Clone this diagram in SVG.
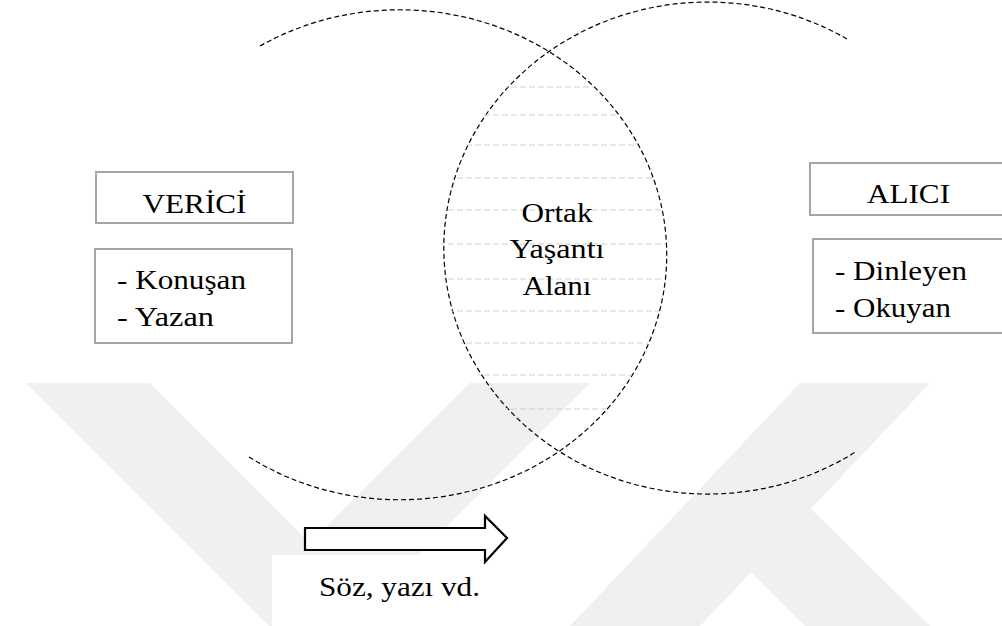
<svg xmlns="http://www.w3.org/2000/svg" width="1002" height="626" viewBox="0 0 1002 626">
<style>
.t{font-family:'Liberation Serif','DejaVu Serif',serif;font-size:28px;fill:#000}
.box{fill:#fff;stroke:#a6a6a6;stroke-width:2}
.circ{fill:none;stroke:#000;stroke-width:1.2;stroke-dasharray:5 3}
.hl{stroke:#cfcfcf;stroke-width:1;stroke-dasharray:6 3}
.wm{fill:#f0f0f0}
</style>
<defs>
<clipPath id="cl"><ellipse cx="399" cy="255" rx="267" ry="245"/></clipPath>
<clipPath id="cr"><ellipse cx="705" cy="248" rx="264" ry="246"/></clipPath>
</defs>
<rect width="1002" height="626" fill="#fff"/>
<g id="watermark">
<polygon class="wm" points="26,383 150,383 310,543 470,383 590,383 347,626 269,626"/>
<polygon class="wm" points="800,383 930,383 700,626 570,626"/>
<polygon class="wm" points="751,572 805,626 930,626 811,509"/>
</g>
<g id="connectors">
<path class="circ" d="M249,457 A267 245 0 1 0 260,46"/>
<path class="circ" d="M847,39 A264 246 0 1 0 857,451"/>
</g>
<g id="common-area">
<g clip-path="url(#cl)"><g clip-path="url(#cr)">
<line class="hl" x1="430" y1="87" x2="680" y2="87"/>
<line class="hl" x1="430" y1="115" x2="680" y2="115"/>
<line class="hl" x1="430" y1="145" x2="680" y2="145"/>
<line class="hl" x1="430" y1="178" x2="680" y2="178"/>
<line class="hl" x1="430" y1="210" x2="680" y2="210"/>
<line class="hl" x1="430" y1="244" x2="680" y2="244"/>
<line class="hl" x1="430" y1="279" x2="680" y2="279"/>
<line class="hl" x1="430" y1="311" x2="680" y2="311"/>
<line class="hl" x1="430" y1="343" x2="680" y2="343"/>
<line class="hl" x1="430" y1="375" x2="680" y2="375"/>
<line class="hl" x1="430" y1="409" x2="680" y2="409"/>
</g></g>
<text class="t" text-anchor="middle" x="557" y="222" textLength="71" lengthAdjust="spacingAndGlyphs">Ortak</text>
<text class="t" text-anchor="middle" x="557" y="258" textLength="95" lengthAdjust="spacingAndGlyphs">Yaşantı</text>
<text class="t" text-anchor="middle" x="557" y="295" textLength="69" lengthAdjust="spacingAndGlyphs">Alanı</text>
</g>
<g id="verici">
<rect class="box" x="96" y="172" width="197" height="51"/>
<text class="t" text-anchor="middle" x="194.5" y="213" textLength="104" lengthAdjust="spacingAndGlyphs">VERİCİ</text>
</g>
<g id="verici-list">
<rect class="box" x="95" y="249" width="197" height="94"/>
<text class="t" x="117" y="289" textLength="129" lengthAdjust="spacingAndGlyphs">- Konuşan</text>
<text class="t" x="117" y="326" textLength="97" lengthAdjust="spacingAndGlyphs">- Yazan</text>
</g>
<g id="alici">
<rect class="box" x="810" y="163" width="197" height="52"/>
<text class="t" text-anchor="middle" x="908.5" y="203" textLength="83" lengthAdjust="spacingAndGlyphs">ALICI</text>
</g>
<g id="alici-list">
<rect class="box" x="813" y="239" width="197" height="94"/>
<text class="t" x="835" y="280" textLength="132" lengthAdjust="spacingAndGlyphs">- Dinleyen</text>
<text class="t" x="835" y="317" textLength="116" lengthAdjust="spacingAndGlyphs">- Okuyan</text>
</g>
<g id="message">
<rect x="272" y="555" width="249" height="71" fill="#fff"/>
<polygon points="305,528 485,528 485,516 507,538 485,562 485,550 305,550" fill="#fff" stroke="#000" stroke-width="2.2" stroke-linejoin="miter"/>
<text class="t" x="319" y="596" textLength="161" lengthAdjust="spacingAndGlyphs">Söz, yazı vd.</text>
</g>
</svg>
